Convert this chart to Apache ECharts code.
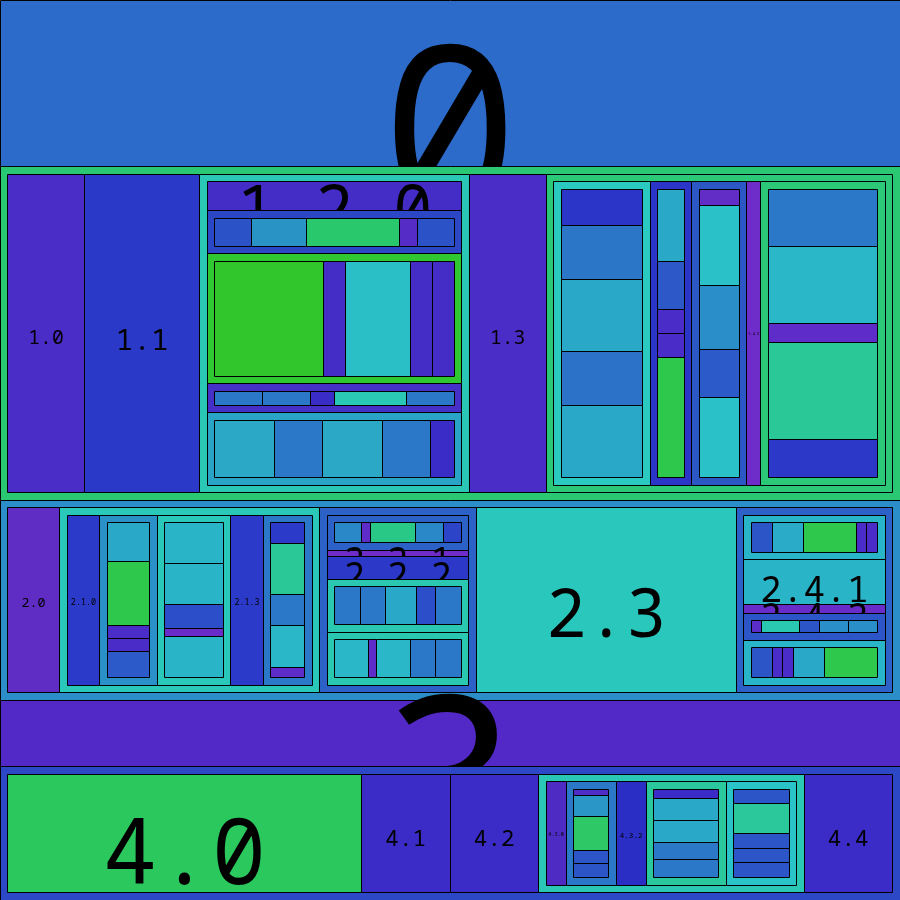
<!DOCTYPE html>
<html>
<head>
<meta charset="utf-8">
<script src="https://cdn.jsdelivr.net/npm/echarts@6/dist/echarts.min.js"></script>
<style>
html,body{margin:0;padding:0;background:#ffffff;}
#chart{width:900px;height:900px;}
</style>
</head>
<body>
<div id="chart"></div>
<script>
// ---- node values, one small array per parent (children listed in order) ----
const v_root  = [5, 10, 6, 2, 4];      // 0 .. 4
const v_1     = [2, 3, 7, 2, 9];       // 1.0 .. 1.4
const v_1_2   = [2, 3, 9, 2, 5];
const v_1_2_1 = [2, 3, 5, 1, 2];
const v_1_2_2 = [5, 1, 3, 1, 1];
const v_1_2_3 = [2, 2, 1, 3, 2];
const v_1_2_4 = [5, 4, 5, 4, 2];
const v_1_4   = [7, 3, 4, 1, 9];
const v_1_4_0 = [2, 3, 4, 3, 4];
const v_1_4_1 = [3, 2, 1, 1, 5];
const v_1_4_2 = [1, 5, 4, 3, 5];
const v_1_4_4 = [3, 4, 1, 5, 2];
const v_2     = [2, 10, 6, 10, 6];
const v_2_1   = [4, 7, 9, 4, 6];
const v_2_1_1 = [3, 5, 1, 1, 2];
const v_2_1_2 = [5, 5, 3, 1, 5];
const v_2_1_4 = [2, 5, 3, 4, 1];
const v_2_2   = [6, 1, 4, 9, 9];
const v_2_2_0 = [3, 1, 5, 3, 2];
const v_2_2_3 = [4, 4, 5, 3, 4];
const v_2_2_4 = [4, 1, 4, 3, 3];
const v_2_4   = [5, 5, 1, 3, 5];
const v_2_4_0 = [2, 3, 5, 1, 1];
const v_2_4_3 = [1, 4, 2, 3, 3];
const v_2_4_4 = [2, 1, 1, 3, 5];
const v_4     = [4, 1, 1, 3, 1];
const v_4_3   = [2, 5, 3, 8, 7];
const v_4_3_1 = [1, 3, 5, 2, 2];
const v_4_3_3 = [2, 5, 5, 4, 4];
const v_4_3_4 = [1, 2, 1, 1, 1];

const childValues = {
  '': v_root, '1': v_1, '1.2': v_1_2, '1.2.1': v_1_2_1, '1.2.2': v_1_2_2,
  '1.2.3': v_1_2_3, '1.2.4': v_1_2_4, '1.4': v_1_4, '1.4.0': v_1_4_0,
  '1.4.1': v_1_4_1, '1.4.2': v_1_4_2, '1.4.4': v_1_4_4, '2': v_2,
  '2.1': v_2_1, '2.1.1': v_2_1_1, '2.1.2': v_2_1_2, '2.1.4': v_2_1_4,
  '2.2': v_2_2, '2.2.0': v_2_2_0, '2.2.3': v_2_2_3, '2.2.4': v_2_2_4,
  '2.4': v_2_4, '2.4.0': v_2_4_0, '2.4.3': v_2_4_3, '2.4.4': v_2_4_4,
  '4': v_4, '4.3': v_4_3, '4.3.1': v_4_3_1, '4.3.3': v_4_3_3, '4.3.4': v_4_3_4
};

// ---- colours (style table) ----
const colors = {
  '0': '#2c6bca', '1': '#2bc873', '2': '#2b8ec8', '3': '#5229c6', '4': '#2c48c6',
  '1.0': '#4a2cc6', '1.1': '#2b39c8', '1.2': '#2ac8b4', '1.3': '#4a2cc6', '1.4': '#2bc878',
  '1.2.0': '#432dc6', '1.2.1': '#2b47c6', '1.2.2': '#30c830', '1.2.3': '#4530c8', '1.2.4': '#2aa4c6',
  '1.2.1.0': '#2c52c8', '1.2.1.1': '#2a93c6', '1.2.1.2': '#2ac86c', '1.2.1.3': '#552cc6', '1.2.1.4': '#2c52c8',
  '1.2.2.0': '#30c62c', '1.2.2.1': '#432dc6', '1.2.2.2': '#2abfc6', '1.2.2.3': '#432dc6', '1.2.2.4': '#432dc6',
  '1.2.3.0': '#2c78c8', '1.2.3.1': '#2c78c8', '1.2.3.2': '#3a2cc6', '1.2.3.3': '#2ac8b4', '1.2.3.4': '#2c78c8',
  '1.2.4.0': '#2aa8c6', '1.2.4.1': '#2c78c8', '1.2.4.2': '#2aa8c6', '1.2.4.3': '#2c78c8', '1.2.4.4': '#3a2cc6',
  '1.4.0': '#2acac0', '1.4.1': '#2b35c8', '1.4.2': '#2c58c6', '1.4.3': '#6e2cc8', '1.4.4': '#2bc878',
  '1.4.0.0': '#2b35c8', '1.4.0.1': '#2c76c8', '1.4.0.2': '#2aa8c8', '1.4.0.3': '#2c72c8', '1.4.0.4': '#2aa8c8',
  '1.4.1.0': '#2aa8c8', '1.4.1.1': '#2c58c8', '1.4.1.2': '#4a2cc8', '1.4.1.3': '#4a2cc8', '1.4.1.4': '#2ec84c',
  '1.4.2.0': '#622cc6', '1.4.2.1': '#2ac2c8', '1.4.2.2': '#2a8ec8', '1.4.2.3': '#2c5ac8', '1.4.2.4': '#2ac2c8',
  '1.4.4.0': '#2c78c8', '1.4.4.1': '#2ab8c8', '1.4.4.2': '#5e2cc8', '1.4.4.3': '#2ac896', '1.4.4.4': '#2b38c8',
  '2.0': '#5f2cc4', '2.1': '#2ac8b8', '2.2': '#2c62c8', '2.3': '#2ac8bc', '2.4': '#2c62c8',
  '2.1.0': '#2b3ac8', '2.1.1': '#2a90c8', '2.1.2': '#2ac8b8', '2.1.3': '#2b3ac8', '2.1.4': '#2c78c8',
  '2.1.1.0': '#2aa8c8', '2.1.1.1': '#2ec84c', '2.1.1.2': '#4a2cc8', '2.1.1.3': '#4a2cc8', '2.1.1.4': '#2c5ac8',
  '2.1.2.0': '#2ab4c8', '2.1.2.1': '#2ab4c8', '2.1.2.2': '#2c4ec8', '2.1.2.3': '#6a2cc8', '2.1.2.4': '#2ab4c8',
  '2.1.4.0': '#2b3ac8', '2.1.4.1': '#2ac896', '2.1.4.2': '#2c78c8', '2.1.4.3': '#2ab8c8', '2.1.4.4': '#5e2cc8',
  '2.2.0': '#2c62c8', '2.2.1': '#6e2cc8', '2.2.2': '#2b38c8', '2.2.3': '#2ac8b0', '2.2.4': '#2ac8b0',
  '2.2.0.0': '#2a88c8', '2.2.0.1': '#5e2cc8', '2.2.0.2': '#2ac886', '2.2.0.3': '#2a88c8', '2.2.0.4': '#2c45c8',
  '2.2.3.0': '#2c78c8', '2.2.3.1': '#2c78c8', '2.2.3.2': '#2aa8c8', '2.2.3.3': '#2c4ec8', '2.2.3.4': '#2c78c8',
  '2.2.4.0': '#2ab8c8', '2.2.4.1': '#5e2cc8', '2.2.4.2': '#2ab8c8', '2.2.4.3': '#2c78c8', '2.2.4.4': '#2c78c8',
  '2.4.0': '#2ab4c8', '2.4.1': '#2ab4c8', '2.4.2': '#6a2cc8', '2.4.3': '#2c55c8', '2.4.4': '#2ab4c8',
  '2.4.0.0': '#2c55c8', '2.4.0.1': '#2aacc8', '2.4.0.2': '#2ec84c', '2.4.0.3': '#4a2cc8', '2.4.0.4': '#4a2cc8',
  '2.4.3.0': '#5a2cc8', '2.4.3.1': '#2ac8b0', '2.4.3.2': '#2c55c8', '2.4.3.3': '#2a8ec8', '2.4.3.4': '#2a8ec8',
  '2.4.4.0': '#2c55c8', '2.4.4.1': '#4a2cc8', '2.4.4.2': '#4a2cc8', '2.4.4.3': '#2aa8c8', '2.4.4.4': '#2ec84c',
  '4.0': '#2bc85e', '4.1': '#3b2cc8', '4.2': '#3b2cc8', '4.3': '#2ac8b4', '4.4': '#3b2cc8',
  '4.3.0': '#4e2cc4', '4.3.1': '#2c78c8', '4.3.2': '#2b2ec4', '4.3.3': '#2ac89c', '4.3.4': '#2ac4c8',
  '4.3.1.0': '#4e2cc8', '4.3.1.1': '#2a96c8', '4.3.1.2': '#2ec866', '4.3.1.3': '#2c55c8', '4.3.1.4': '#2c55c8',
  '4.3.3.0': '#3b2cc8', '4.3.3.1': '#2aa8c8', '4.3.3.2': '#2aa8c8', '4.3.3.3': '#2c78c8', '4.3.3.4': '#2c78c8',
  '4.3.4.0': '#2c55c8', '4.3.4.1': '#2ac89a', '4.3.4.2': '#2c55c8', '4.3.4.3': '#2c55c8', '4.3.4.4': '#2c55c8'
};

const PAD = 7.5;          // inner padding of a parent node
const FONT_RATIO = 0.256; // label font size relative to the leaf width
const LABEL_SHIFT = 0.27; // label drop below the cell centre, in em
const LABEL_MAX_DEPTH = 3;
const FONT = '"Noto Sans Mono", "Noto Sans Mono CJK SC", "DejaVu Sans Mono", monospace';

// slice along the longer side, all children in one strip (data units = 0..900)
const nodes = [];
function layout(path, x0, y0, x1, y1) {
  const vals = childValues[path];
  if (!vals) return;
  const pad = path === '' ? 0 : PAD;
  const ix0 = x0 + pad, iy0 = y0 + pad, ix1 = x1 - pad, iy1 = y1 - pad;
  const horizontal = (ix1 - ix0) > (iy1 - iy0);
  const total = vals.reduce((a, b) => a + b, 0);
  let acc = 0;
  vals.forEach((v, i) => {
    const cp = path === '' ? String(i) : path + '.' + i;
    let r;
    if (horizontal) {
      const a = ix0 + (ix1 - ix0) * acc / total;
      const b = ix0 + (ix1 - ix0) * (acc + v) / total;
      r = [a, iy0, b, iy1];
    } else {
      const a = iy0 + (iy1 - iy0) * acc / total;
      const b = iy0 + (iy1 - iy0) * (acc + v) / total;
      r = [ix0, a, ix1, b];
    }
    acc += v;
    nodes.push({ path: cp, value: v, rect: r, leaf: !childValues[cp], depth: cp.split('.').length });
    layout(cp, r[0], r[1], r[2], r[3]);
  });
}
layout('', 0, 0, 900, 900);

const chart = echarts.init(document.getElementById('chart'), null, { renderer: 'canvas' });
chart.setOption({
  animation: false,
  backgroundColor: '#ffffff',
  grid: { left: 0, right: 0, top: 0, bottom: 0 },
  xAxis: { type: 'value', min: 0, max: 900, show: false },
  yAxis: { type: 'value', min: 0, max: 900, inverse: true, show: false },
  series: [{
    type: 'custom',
    coordinateSystem: 'cartesian2d',
    clip: false,
    data: nodes.map((n, i) => [n.rect[0], n.rect[1], n.rect[2], n.rect[3], n.value]),
    renderItem: function (params, api) {
      const n = nodes[params.dataIndex];
      const p0 = api.coord([api.value(0), api.value(1)]);
      const p1 = api.coord([api.value(2), api.value(3)]);
      const sx0 = Math.floor(p0[0]) + 0.5, sy0 = Math.floor(p0[1]) + 0.5;
      const sx1 = Math.floor(p1[0]) + 0.5, sy1 = Math.floor(p1[1]) + 0.5;
      const idx = params.dataIndex;
      const els = [{
        type: 'rect',
        z2: idx * 2,
        shape: { x: sx0, y: sy0, width: sx1 - sx0, height: sy1 - sy0 },
        style: { fill: colors[n.path] || '#2c62c8', stroke: '#000000', lineWidth: 1 }
      }];
      if (n.leaf && n.depth <= LABEL_MAX_DEPTH) {
        const w = p1[0] - p0[0];
        const fs = w * FONT_RATIO;
        const cx = (p0[0] + p1[0]) / 2, cy = (p0[1] + p1[1]) / 2;
        els.push({
          type: 'text',
          z2: idx * 2 + 1,
          style: {
            text: n.path, x: cx, y: cy + fs * LABEL_SHIFT,
            fontSize: fs, fontFamily: FONT, fill: '#000000',
            align: 'center', verticalAlign: 'middle'
          }
        });
      }
      return { type: 'group', children: els };
    }
  }]
});
</script>
</body>
</html>
